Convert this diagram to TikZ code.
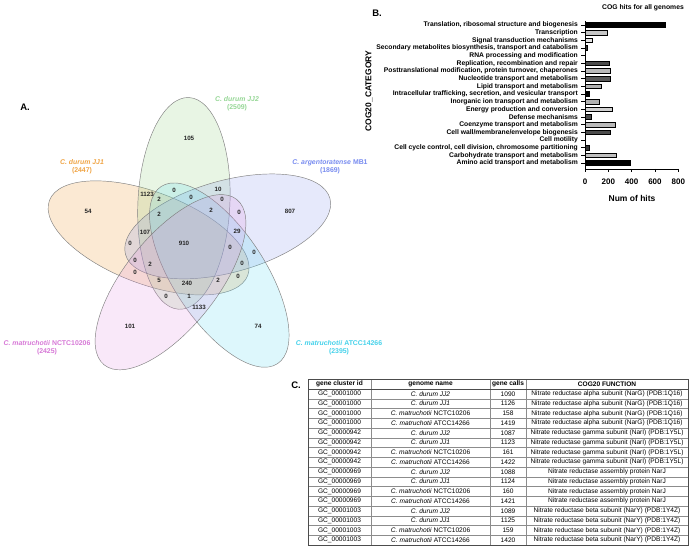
\documentclass[tikz,border=0pt]{standalone}
\usepackage{fontspec}
\setmainfont{Liberation Sans}
\definecolor{cOr}{RGB}{235,145,35}
\definecolor{cGr}{RGB}{140,205,120}
\definecolor{cBl}{RGB}{130,145,235}
\definecolor{cPk}{RGB}{225,140,225}
\definecolor{cCy}{RGB}{85,215,240}
\definecolor{tOr}{RGB}{240,165,70}
\definecolor{tGr}{RGB}{150,215,150}
\definecolor{tBl}{RGB}{120,140,240}
\definecolor{tPk}{RGB}{215,120,215}
\definecolor{tCy}{RGB}{70,210,235}
\tikzset{
  vell/.style={draw=black!50, line width=0.45pt, fill opacity=0.2},
  vnum/.style={font=\fontsize{6.2}{7}\selectfont\bfseries, text=black!85, inner sep=0},
  vlab/.style={font=\fontsize{6.9}{8}\selectfont\bfseries, align=center, inner sep=0},
  cat/.style={font=\fontsize{6.75}{7}\selectfont\bfseries, anchor=east, inner sep=0},
  axisln/.style={draw=black, line width=0.9pt},
  barbox/.style={draw=black, line width=0.45pt},
  tick/.style={font=\fontsize{8}{9}\selectfont\bfseries, inner sep=0},
  cell/.style={font=\fontsize{6.6}{7}\selectfont, inner sep=0},
  hcell/.style={font=\fontsize{6.6}{7}\selectfont\bfseries, inner sep=0},
  panel/.style={font=\fontsize{9.5}{10}\selectfont\bfseries, inner sep=0},
  grid/.style={draw=black!45, line width=0.4pt},
}
\newcommand\catrow[4]{%
  \pgfmathsetmacro\yy{25+(#1-1)*7.667}%
  \pgfmathsetmacro\xx{585+#3*0.1166}%
  \node[cat] (cat#1) at (578,\yy) {#2};
  \draw[axisln, line width=0.5pt] (581,\yy) -- (585,\yy);
  \ifdim #3pt>0pt \draw[barbox,fill=#4] (585,\yy-2.3) rectangle (\xx,\yy+2.3);\fi
}
\newcommand\trow[5]{%
  \pgfmathsetmacro\yy{389+(#1-0.5)*9.75}%
  \node[cell] (ga#1) at (339.5,\yy) {GC\_#2};
  \node[cell] (gb#1) at (430.5,\yy) {#3};
  \node[cell] (gc#1) at (508,\yy) {#4};
  \node[cell] (gd#1) at (607,\yy) {#5};
}
\begin{document}
\begin{tikzpicture}[x=1pt,y=-1pt]
\useasboundingbox (0,0) rectangle (690,556);
\fill[white] (0,0) rectangle (690,556);

% ---------- Panel A: Venn ----------
\node[panel] (pA) at (25,107) {A.};
\path[vell, fill=cOr, rotate around={-20.7:(148.6,237.9)}] (148.6,237.9) ellipse [x radius=106pt, y radius=46pt];
\path[vell, fill=cGr, rotate around={87.3:(183.9,203.4)}] (183.9,203.4) ellipse [x radius=106pt, y radius=46pt];
\path[vell, fill=cBl, rotate around={15.3:(227.7,226.4)}] (227.7,226.4) ellipse [x radius=106pt, y radius=46pt];
\path[vell, fill=cCy, rotate around={-56.7:(219.3,275.1)}] (219.3,275.1) ellipse [x radius=106pt, y radius=46pt];
\path[vell, fill=cPk, rotate around={51.3:(170.5,282.2)}] (170.5,282.2) ellipse [x radius=106pt, y radius=46pt];

\node[vlab, text=tOr] (lJJ1) at (82,167) {\textit{C. durum JJ1}\\(2447)};
\node[vlab, text=tGr] (lJJ2) at (237,103.5) {\textit{C. durum JJ2}\\(2509)};
\node[vlab, text=tBl] (lMB1) at (330,166.5) {\textit{C. argentoratense} MB1\\(1869)};
\node[vlab, text=tPk] (lNC) at (47,347.5) {\textit{C. matruchotii} NCTC10206\\(2425)};
\node[vlab, text=tCy] (lAT) at (339,347.5) {\textit{C. matruchotii} ATCC14266\\(2395)};

\foreach \x/\y/\t [count=\k] in {189/138/105, 88/211/54, 290/211/807, 147/194/1123,
  174/190/0, 218/189/10, 159/199/2, 191/197/0, 222/199/0, 159/214/2, 211/210/2,
  239/212/0, 145/232/107, 237/231/29, 130/243/0, 184/243/910, 230/247/0, 254/252/0,
  135/260/0, 150/264/2, 242/263/0, 135/272/0, 159/280/5, 187/283/240, 218/280/2,
  238/276/0, 166/296/0, 189/296/1, 199/307/1133, 130/326/101, 258/326/74}
  \node[vnum] (v\k) at (\x,\y) {\t};

% ---------- Panel B: bar chart ----------
\node[panel] (pB) at (377,13) {B.};
\node[font=\fontsize{6.8}{8}\selectfont\bfseries, inner sep=0] (tB) at (643,8) {COG hits for all genomes};
\node[font=\fontsize{8.5}{9}\selectfont\bfseries, inner sep=0, rotate=90] (ylab) at (369,91) {COG20\_CATEGORY};
\catrow{1}{Translation, ribosomal structure and biogenesis}{688}{black}
\catrow{2}{Transcription}{192}{gray!45}
\catrow{3}{Signal transduction mechanisms}{63}{gray!20}
\catrow{4}{Secondary metabolites biosynthesis, transport and catabolism}{23}{black!80}
\catrow{5}{RNA processing and modification}{3}{black}
\catrow{6}{Replication, recombination and repair}{206}{black!70}
\catrow{7}{Posttranslational modification, protein turnover, chaperones}{220}{gray!55}
\catrow{8}{Nucleotide transport and metabolism}{212}{black!65}
\catrow{9}{Lipid transport and metabolism}{137}{gray!60}
\catrow{10}{Intracellular trafficking, secretion, and vesicular transport}{37}{black}
\catrow{11}{Inorganic ion transport and metabolism}{123}{gray!60}
\catrow{12}{Energy production and conversion}{237}{gray!35}
\catrow{13}{Defense mechanisms}{54}{black!70}
\catrow{14}{Coenzyme transport and metabolism}{263}{gray!55}
\catrow{15}{Cell wall/membrane/envelope biogenesis}{214}{black!70}
\catrow{16}{Cell motility}{0}{white}
\catrow{17}{Cell cycle control, cell division, chromosome partitioning}{37}{black!80}
\catrow{18}{Carbohydrate transport and metabolism}{272}{gray!50}
\catrow{19}{Amino acid transport and metabolism}{392}{black}
\draw[axisln] (585,21) -- (585,169) -- (679,169);
\foreach \v [count=\k] in {0,200,400,600,800} {
  \draw[axisln, line width=0.7pt] (585+\v*0.1166,169) -- (585+\v*0.1166,172.5);
  \node[tick] (xt\k) at (585+\v*0.1166,182) {\v};
}
\node[font=\fontsize{8.5}{9}\selectfont\bfseries, inner sep=0] (xlab) at (632,198) {Num of hits};

% ---------- Panel C: table ----------
\node[panel] (pC) at (296,385) {C.};
\foreach \r in {1,...,15} \draw[grid] (308,389+\r*9.75) -- (688,389+\r*9.75);
\foreach \x in {371,490,526} \draw[grid] (\x,379) -- (\x,545);
\draw[draw=black!70, line width=0.6pt] (308,389) -- (688,389);
\draw[draw=black!70, line width=0.6pt] (308,379) rectangle (688,545);
\node[hcell] (h1) at (339.5,384) {gene cluster id};
\node[hcell] (h2) at (430.5,384) {genome name};
\node[hcell] (h3) at (508,384) {gene calls};
\node[hcell] (h4) at (607,384) {COG20 FUNCTION};
\trow{1}{00001000}{\textit{C. durum JJ2}}{1090}{Nitrate reductase alpha subunit (NarG) (PDB:1Q16)}
\trow{2}{00001000}{\textit{C. durum JJ1}}{1126}{Nitrate reductase alpha subunit (NarG) (PDB:1Q16)}
\trow{3}{00001000}{\textit{C. matruchotii} NCTC10206}{158}{Nitrate reductase alpha subunit (NarG) (PDB:1Q16)}
\trow{4}{00001000}{\textit{C. matruchotii} ATCC14266}{1419}{Nitrate reductase alpha subunit (NarG) (PDB:1Q16)}
\trow{5}{00000942}{\textit{C. durum JJ2}}{1087}{Nitrate reductase gamma subunit (NarI) (PDB:1Y5L)}
\trow{6}{00000942}{\textit{C. durum JJ1}}{1123}{Nitrate reductase gamma subunit (NarI) (PDB:1Y5L)}
\trow{7}{00000942}{\textit{C. matruchotii} NCTC10206}{161}{Nitrate reductase gamma subunit (NarI) (PDB:1Y5L)}
\trow{8}{00000942}{\textit{C. matruchotii} ATCC14266}{1422}{Nitrate reductase gamma subunit (NarI) (PDB:1Y5L)}
\trow{9}{00000969}{\textit{C. durum JJ2}}{1088}{Nitrate reductase assembly protein NarJ}
\trow{10}{00000969}{\textit{C. durum JJ1}}{1124}{Nitrate reductase assembly protein NarJ}
\trow{11}{00000969}{\textit{C. matruchotii} NCTC10206}{160}{Nitrate reductase assembly protein NarJ}
\trow{12}{00000969}{\textit{C. matruchotii} ATCC14266}{1421}{Nitrate reductase assembly protein NarJ}
\trow{13}{00001003}{\textit{C. durum JJ2}}{1089}{Nitrate reductase beta subunit (NarY) (PDB:1Y4Z)}
\trow{14}{00001003}{\textit{C. durum JJ1}}{1125}{Nitrate reductase beta subunit (NarY) (PDB:1Y4Z)}
\trow{15}{00001003}{\textit{C. matruchotii} NCTC10206}{159}{Nitrate reductase beta subunit (NarY) (PDB:1Y4Z)}
\trow{16}{00001003}{\textit{C. matruchotii} ATCC14266}{1420}{Nitrate reductase beta subunit (NarY) (PDB:1Y4Z)}
\end{tikzpicture}
\end{document}
